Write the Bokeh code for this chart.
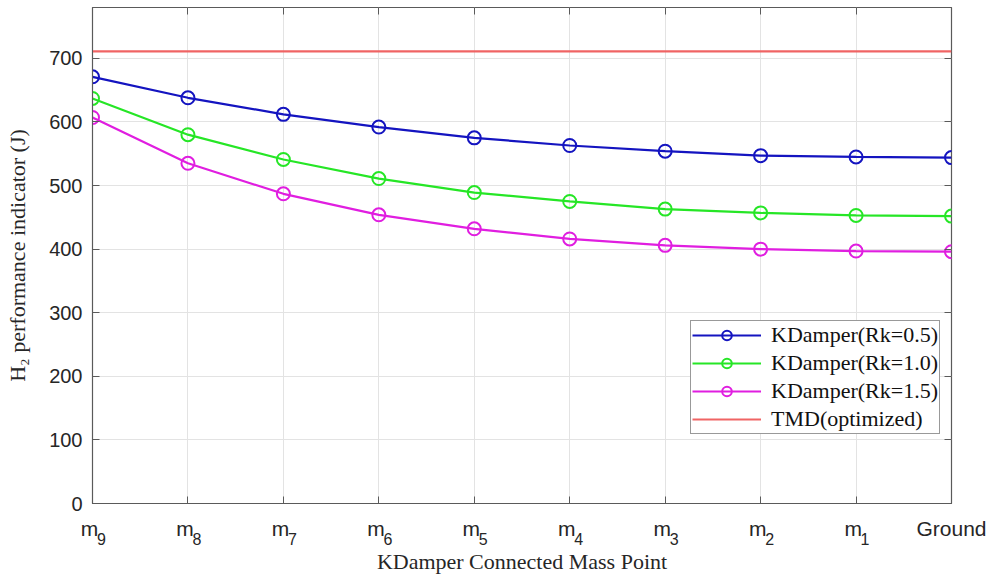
from bokeh.plotting import figure
from bokeh.models import (FixedTicker, LinearAxis, Range1d, Legend, LegendItem,
                          CustomJSTickFormatter)
from bokeh.embed import file_html
from bokeh.resources import INLINE

# Connection points of the KDamper, from top mass down to ground
positions = list(range(10))
point_names = ["m", "m", "m", "m", "m", "m", "m", "m", "m", "Ground"]
point_subscripts = ["9", "8", "7", "6", "5", "4", "3", "2", "1", ""]

# H2 performance indicator (J) for each stiffness ratio
rk05 = [671, 638, 612, 592, 575, 563, 554, 547, 545, 544]
rk10 = [637, 580, 541, 511, 489, 475, 463, 457, 453, 452]
rk15 = [607, 535, 487, 454, 432, 416, 406, 400, 397, 396]
tmd_value = 711

y_ticks = [0, 100, 200, 300, 400, 500, 600, 700]

p = figure(width=989, height=581, output_backend="svg", toolbar_location=None,
           x_range=Range1d(0, 9), y_range=Range1d(0, 780),
           min_border_left=92, min_border_right=38, min_border_top=7, min_border_bottom=78)
p.background_fill_color = "white"
p.border_fill_color = "white"
p.outline_line_color = "#5a5a5a"
p.outline_line_width = 1.2

axis_color = "#5a5a5a"
text_color = "#262626"
tick_font = "Liberation Sans"
serif_font = "Liberation Serif"

p.xaxis.ticker = FixedTicker(ticks=positions)
p.yaxis.ticker = FixedTicker(ticks=y_ticks)
for ax in (p.xaxis[0], p.yaxis[0]):
    ax.axis_line_color = axis_color
    ax.major_tick_line_color = axis_color
    ax.major_tick_in = 7
    ax.major_tick_out = 0
    ax.minor_tick_line_color = None
    ax.major_label_text_font = tick_font
    ax.major_label_text_color = text_color
    ax.axis_label_text_font = serif_font
    ax.axis_label_text_font_size = "22px"
    ax.axis_label_text_font_style = "normal"
    ax.axis_label_text_color = text_color
p.yaxis.major_label_text_font_size = "20px"
p.yaxis.major_label_standoff = 10
p.yaxis.axis_label = "H₂ performance indicator (J)"
p.yaxis.axis_label_standoff = 16

# Bottom tick texts: the base letter on the main axis (a no-break space keeps
# room for the subscript), the subscript digits on a second axis just below
p.xaxis.major_label_overrides = {
    pos: (name + "\u00a0" if sub else name)
    for pos, name, sub in zip(positions, point_names, point_subscripts)
}
p.xaxis.major_label_text_font_size = "21px"
p.xaxis.major_label_standoff = 13

sub_shift = 9.0 / 95.4  # subscript sits ~9px right of its tick
sub_axis = LinearAxis(
    ticker=FixedTicker(ticks=[pos + sub_shift for pos, sub in zip(positions, point_subscripts) if sub]),
    formatter=CustomJSTickFormatter(args=dict(subs=point_subscripts),
                                    code="return subs[Math.round(tick)]"),
    axis_line_color=None, major_tick_line_color=None, minor_tick_line_color=None,
    major_label_text_font=tick_font, major_label_text_font_size="16px",
    major_label_text_color=text_color, major_label_standoff=-16,
    axis_label="KDamper Connected Mass Point", axis_label_text_font=serif_font,
    axis_label_text_font_size="22px", axis_label_text_font_style="normal",
    axis_label_text_color=text_color, axis_label_standoff=1)
p.add_layout(sub_axis, "below")

# Mirror ticks on the right and top edges
for side, ticks in (("right", y_ticks), ("above", positions)):
    mirror = LinearAxis(ticker=FixedTicker(ticks=ticks), major_label_text_font_size="1px",
                        major_label_text_color=None, major_label_standoff=0,
                        axis_line_color=None, major_tick_line_color=axis_color,
                        major_tick_in=7, major_tick_out=0, minor_tick_line_color=None)
    p.add_layout(mirror, side)

p.xgrid.ticker = FixedTicker(ticks=positions)
p.ygrid.ticker = FixedTicker(ticks=y_ticks)
p.grid.grid_line_color = "#e3e3e3"
p.grid.grid_line_width = 1

series = [
    ("KDamper(Rk=0.5)", rk05, "#1414c0"),
    ("KDamper(Rk=1.0)", rk10, "#26e626"),
    ("KDamper(Rk=1.5)", rk15, "#e01ee0"),
]

items = []
for label, vals, color in series:
    ln = p.line(positions, vals, line_color=color, line_width=2.2)
    sc = p.scatter(positions, vals, marker="circle", size=13, line_color=color,
                   line_width=2, fill_alpha=0)
    items.append(LegendItem(label=label, renderers=[ln, sc]))

tmd_line = p.line([positions[0], positions[-1]], [tmd_value, tmd_value],
                  line_color="#f06464", line_width=2.2)
items.append(LegendItem(label="TMD(optimized)", renderers=[tmd_line]))

legend = Legend(items=items, location=(598, 69))
legend.label_text_font = serif_font
legend.label_text_font_size = "22px"
legend.label_text_line_height = 1.0
legend.label_text_color = "#111111"
legend.label_standoff = 10
legend.glyph_width = 69
legend.glyph_height = 24
legend.label_height = 24
legend.spacing = 2
legend.padding = 1
legend.margin = 0
legend.border_line_color = "#333333"
legend.border_line_width = 1.2
legend.background_fill_color = "white"
legend.background_fill_alpha = 1
p.add_layout(legend, "center")

open("out.html", "w").write(file_html(p, INLINE))
